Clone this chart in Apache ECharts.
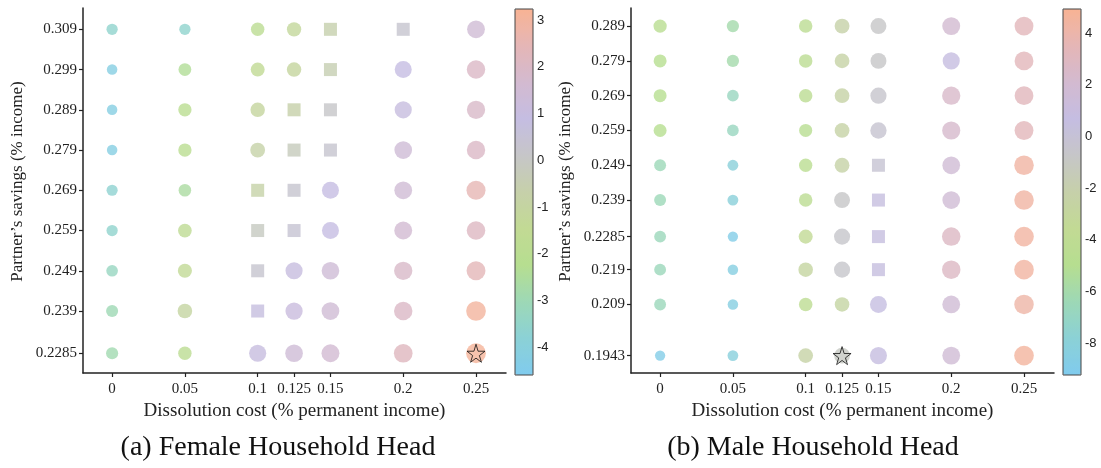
<!DOCTYPE html>
<html>
<head>
<meta charset="utf-8">
<script src="https://cdn.jsdelivr.net/npm/echarts@6/dist/echarts.min.js"></script>
<style>
	html, body { margin: 0; padding: 0; background: #fff; }
	#chart { width: 1101px; height: 468px; }
</style>
</head>
<body>
<div id="chart"></div>
<script>
	'use strict'

	/*-----Data-----*/
	var costs = [0, 0.05, 0.1, 0.125, 0.15, 0.2, 0.25];

	// female household head, rows from top (0.309) to bottom (0.2285)
	var savingsF = [0.309, 0.299, 0.289, 0.279, 0.269, 0.259, 0.249, 0.239, 0.2285];
	var valuesF = [
		[-3.6, -3.6, -1.9, -1.2, -0.6, 0.3, 1.5],
		[-4.2, -2.4, -1.5, -1.1, -0.5, 0.9, 2.0],
		[-4.2, -2.0, -1.1, -0.7, 0.1, 1.0, 1.9],
		[-4.2, -2.0, -0.8, -0.2, 0.3, 1.4, 2.0],
		[-3.7, -2.6, -0.8, 0.3, 0.9, 1.5, 2.5],
		[-3.6, -1.7, -0.1, 0.4, 0.9, 1.6, 2.1],
		[-3.3, -1.4, 0.3, 1.0, 1.4, 1.9, 2.4],
		[-3.0, -1.0, 0.8, 1.1, 1.5, 2.0, 3.0],
		[-2.9, -1.9, 1.0, 1.4, 1.6, 2.2, 3.1]
	];
	var squaresF = [
		[0, 0, 0, 0, 1, 1, 0],
		[0, 0, 0, 0, 1, 0, 0],
		[0, 0, 0, 1, 1, 0, 0],
		[0, 0, 0, 1, 1, 0, 0],
		[0, 0, 1, 1, 0, 0, 0],
		[0, 0, 1, 1, 0, 0, 0],
		[0, 0, 1, 0, 0, 0, 0],
		[0, 0, 1, 0, 0, 0, 0],
		[0, 0, 0, 0, 0, 0, 0]
	];
	var starF = [0.25, 0.2285];
	var colorRangeF = [-4.6, 3.24];
	var colorTicksF = [-4, -3, -2, -1, 0, 1, 2, 3];

	// male household head, rows from top (0.289) to bottom (0.1943)
	var savingsM = [0.289, 0.279, 0.269, 0.259, 0.249, 0.239, 0.2285, 0.219, 0.209, 0.1943];
	var valuesM = [
		[-4.6, -6.0, -4.3, -2.3, -0.8, 2.0, 3.3],
		[-5.0, -6.0, -4.3, -2.5, -0.8, 0.8, 3.3],
		[-5.0, -6.8, -4.3, -2.5, -0.5, 2.5, 3.2],
		[-5.0, -6.8, -4.8, -2.5, -0.3, 2.3, 3.3],
		[-6.5, -8.0, -4.5, -2.4, -0.2, 1.7, 4.3],
		[-6.5, -8.0, -4.3, -0.8, 0.5, 1.7, 4.3],
		[-6.6, -8.8, -3.5, -0.6, 0.5, 2.8, 4.4],
		[-6.6, -8.5, -2.8, -0.6, 0.5, 2.8, 4.4],
		[-6.6, -8.5, -4.2, -2.7, 0.6, 1.8, 4.2],
		[-8.8, -8.2, -2.5, -1.0, 0.8, 1.8, 4.5]
	];
	var squaresM = [
		[0, 0, 0, 0, 0, 0, 0],
		[0, 0, 0, 0, 0, 0, 0],
		[0, 0, 0, 0, 0, 0, 0],
		[0, 0, 0, 0, 0, 0, 0],
		[0, 0, 0, 0, 1, 0, 0],
		[0, 0, 0, 0, 1, 0, 0],
		[0, 0, 0, 0, 1, 0, 0],
		[0, 0, 0, 0, 1, 0, 0],
		[0, 0, 0, 0, 0, 0, 0],
		[0, 0, 0, 0, 0, 0, 0]
	];
	var starM = [0.125, 0.1943];
	var colorRangeM = [-9.24, 4.93];
	var colorTicksM = [-8, -6, -4, -2, 0, 2, 4];

	/*-----Styles-----*/
	var palette = ['#80cbee', '#8bd1d6', '#9dd8b6', '#b6de90', '#c2da94', '#c6d0aa',
		'#c6c6c8', '#c5bde2', '#d3bad0', '#e5b6b6', '#f8b394'];
	var serif = '"Liberation Serif", serif';
	var starPath = 'path://M50,0 L61,35 L98,35 L68,57 L79,91 L50,70 L21,91 L32,57 L2,35 L39,35 Z';

	function splitPoints(savings, values, squares) {
		var circles = [], rects = [];
		for (var i = 0; i < savings.length; i++) {
			for (var j = 0; j < costs.length; j++) {
				var p = [costs[j], savings[i], values[i][j]];
				if (squares[i][j]) rects.push(p); else circles.push(p);
			}
		}
		return { circles: circles, rects: rects };
	}
	var ptsF = splitPoints(savingsF, valuesF, squaresF);
	var ptsM = splitPoints(savingsM, valuesM, squaresM);

	function plotX(idx) {
		return {
			type: 'value', gridIndex: idx, min: -0.02, max: 0.2706,
			name: 'Dissolution cost (% permanent income)', nameLocation: 'middle', nameGap: 25,
			nameTextStyle: { fontFamily: serif, fontSize: 19, color: '#222' },
			splitLine: { show: false },
			axisLine: { onZero: false, lineStyle: { color: '#222', width: 1.5 } },
			axisTick: { customValues: costs, length: 4, lineStyle: { color: '#222', width: 1.2 } },
			axisLabel: { customValues: costs, margin: 9, fontFamily: serif, fontSize: 15, color: '#222' }
		};
	}
	function plotY(idx, savings, min, max) {
		return {
			type: 'value', gridIndex: idx, min: min, max: max,
			name: 'Partner\u2019s savings (% income)', nameLocation: 'middle', nameGap: 57,
			nameTextStyle: { fontFamily: serif, fontSize: 17, color: '#222', padding: [0, 0, 0, 18] },
			splitLine: { show: false },
			axisLine: { onZero: false, lineStyle: { color: '#222', width: 1.5 } },
			axisTick: { customValues: savings, length: 4, lineStyle: { color: '#222', width: 1.2 } },
			axisLabel: { customValues: savings, margin: 6, fontFamily: serif, fontSize: 15, color: '#222' }
		};
	}
	function barX(idx) {
		return { type: 'value', gridIndex: idx, show: false, min: 0, max: 1 };
	}
	function barY(idx, range, ticks) {
		return {
			type: 'value', gridIndex: idx, position: 'right', min: range[0], max: range[1],
			splitLine: { show: false },
			axisLine: { show: false },
			axisTick: { customValues: ticks, length: 3, lineStyle: { color: '#333' } },
			axisLabel: { customValues: ticks, margin: 4, fontFamily: '"Liberation Sans", Arial', fontSize: 13, color: '#222' }
		};
	}
	function circleSeries(idx, data) {
		return { type: 'scatter', xAxisIndex: idx, yAxisIndex: idx, symbol: 'circle', data: data, z: 2 };
	}
	function rectSeries(idx, data) {
		return { type: 'scatter', xAxisIndex: idx, yAxisIndex: idx, symbol: 'rect', symbolSize: 13, data: data, z: 2 };
	}
	function starSeries(idx, pt) {
		return {
			type: 'scatter', xAxisIndex: idx, yAxisIndex: idx, symbol: starPath, symbolSize: 18, z: 5,
			itemStyle: { color: 'rgba(0,0,0,0)', borderColor: '#111', borderWidth: 1 },
			data: [pt]
		};
	}
	function colorMap(series, range, left) {
		return {
			type: 'continuous', seriesIndex: series, dimension: 2, min: range[0], max: range[1],
			left: left, top: 9, itemWidth: 18, itemHeight: 366, padding: 0,
			calculable: false, hoverLink: false, showLabel: false,
			inRange: { color: palette }
		};
	}
	function sizeMap(series, range) {
		return {
			type: 'continuous', show: false, seriesIndex: series, dimension: 2,
			min: range[0], max: range[1], inRange: { symbolSize: [10, 20] }
		};
	}

	var chart = echarts.init(document.getElementById('chart'));
	var option = {
		animation: false,
		grid: [
			{ left: 83, top: 8, width: 423, height: 365 },
			{ left: 631, top: 8, width: 423, height: 365 },
			{ left: 515, top: 9, width: 18, height: 366, show: true, z: 10, backgroundColor: 'rgba(0,0,0,0)', borderColor: '#444', borderWidth: 1 },
			{ left: 1063, top: 9, width: 18, height: 366, show: true, z: 10, backgroundColor: 'rgba(0,0,0,0)', borderColor: '#444', borderWidth: 1 }
		],
		xAxis: [plotX(0), plotX(1), barX(2), barX(3)],
		yAxis: [
			plotY(0, savingsF, 0.2236, 0.3143),
			plotY(1, savingsM, 0.1893, 0.2942),
			barY(2, colorRangeF, colorTicksF),
			barY(3, colorRangeM, colorTicksM)
		],
		visualMap: [
			colorMap([0, 1], colorRangeF, 515),
			sizeMap([0], colorRangeF),
			colorMap([3, 4], colorRangeM, 1063),
			sizeMap([3], colorRangeM)
		],
		series: [
			circleSeries(0, ptsF.circles),
			rectSeries(0, ptsF.rects),
			starSeries(0, starF),
			circleSeries(1, ptsM.circles),
			rectSeries(1, ptsM.rects),
			starSeries(1, starM)
		],
		graphic: [
			{ type: 'text', x: 278, y: 448, style: { text: '(a) Female Household Head', font: '28px ' + serif, fill: '#111', textAlign: 'center', textVerticalAlign: 'middle' } },
			{ type: 'text', x: 813, y: 448, style: { text: '(b) Male Household Head', font: '28px ' + serif, fill: '#111', textAlign: 'center', textVerticalAlign: 'middle' } }
		]
	};
	chart.setOption(option);
</script>
</body>
</html>
